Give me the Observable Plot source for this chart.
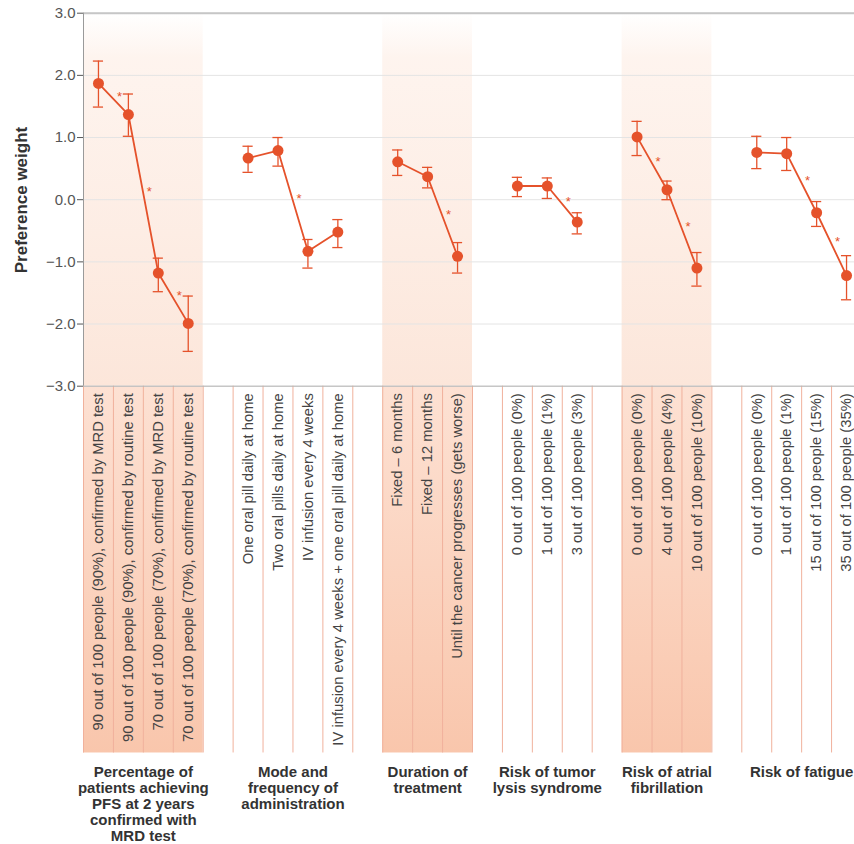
<!DOCTYPE html>
<html>
<head>
<meta charset="utf-8">
<script src="https://cdn.jsdelivr.net/npm/d3@7"></script>
<script src="https://cdn.jsdelivr.net/npm/@observablehq/plot@0.6"></script>
<style>
  html, body { margin: 0; padding: 0; background: #fff; overflow: hidden; }
  #chart svg { display: block; }
</style>
</head>
<body>
<div id="chart"></div>
<script>
// ---- Data ----
const groupNames = [
  "Percentage of\npatients achieving\nPFS at 2 years\nconfirmed with\nMRD test",
  "Mode and\nfrequency of\nadministration",
  "Duration of\ntreatment",
  "Risk of tumor\nlysis syndrome",
  "Risk of atrial\nfibrillation",
  "Risk of fatigue"
];
const groupShaded = [true, false, true, false, true, false];

const levelLabels = [
  "90 out of 100 people (90%), confirmed by MRD test",
  "90 out of 100 people (90%), confirmed by routine test",
  "70 out of 100 people (70%), confirmed by MRD test",
  "70 out of 100 people (70%), confirmed by routine test",
  "One oral pill daily at home",
  "Two oral pills daily at home",
  "IV infusion every 4 weeks",
  "IV infusion every 4 weeks + one oral pill daily at home",
  "Fixed – 6 months",
  "Fixed – 12 months",
  "Until the cancer progresses (gets worse)",
  "0 out of 100 people (0%)",
  "1 out of 100 people (1%)",
  "3 out of 100 people (3%)",
  "0 out of 100 people (0%)",
  "4 out of 100 people (4%)",
  "10 out of 100 people (10%)",
  "0 out of 100 people (0%)",
  "1 out of 100 people (1%)",
  "15 out of 100 people (15%)",
  "35 out of 100 people (35%)"
];
const levelGroup = [0,0,0,0, 1,1,1,1, 2,2,2, 3,3,3, 4,4,4, 5,5,5,5];
const weight = [1.87, 1.37, -1.18, -1.99,  0.67, 0.79, -0.83, -0.52,  0.61, 0.37, -0.91,  0.22, 0.22, -0.36,  1.01, 0.16, -1.10,  0.76, 0.74, -0.21, -1.22];
const ciLow  = [1.49, 1.02, -1.48, -2.44,  0.44, 0.54, -1.10, -0.77,  0.39, 0.19, -1.18,  0.05, 0.02, -0.55,  0.71, 0.00, -1.39,  0.50, 0.47, -0.43, -1.61];
const ciHigh = [2.23, 1.70, -0.94, -1.55,  0.86, 1.00, -0.64, -0.32,  0.80, 0.52, -0.69,  0.36, 0.35, -0.21,  1.26, 0.30, -0.85,  1.02, 1.00, -0.03, -0.90];
// significant difference between a level and the next level of the same attribute
const sigWithNext = [1,1,1,0, 0,1,0,0, 0,1,0, 0,1,0, 1,1,0, 0,1,1,0];
const yTicks = [-3, -2, -1, 0, 1, 2, 3];
const labelAreaBottom = -8.9;

// ---- Derived tables ----
const levels = levelLabels.map((label, i) => ({
  label, group: levelGroup[i], slot: i + levelGroup[i],
  w: weight[i], lo: ciLow[i], hi: ciHigh[i]
}));
const groups = groupNames.map((name, g) => {
  const slots = levels.filter(d => d.group === g).map(d => d.slot);
  return {name, g, start: d3.min(slots), end: d3.max(slots), shaded: groupShaded[g]};
});
const shaded = groups.filter(d => d.shaded);
const boundaries = Array.from(new Set(levels.flatMap(d => [d.slot - 0.5, d.slot + 0.5])));
const stars = levels
  .map((d, i) => ({d, i}))
  .filter(({i}) => sigWithNext[i])
  .map(({d, i}) => ({x: d.slot + 0.5, y: (d.w + levels[i + 1].w) / 2}));

const C = "#e5522b";

const defs = () => {
  const s = d3.create("svg:defs");
  const g1 = s.append("linearGradient").attr("id", "plotShade").attr("x1", 0).attr("y1", 0).attr("x2", 0).attr("y2", 1);
  g1.append("stop").attr("offset", 0).attr("stop-color", "#fde9de").attr("stop-opacity", 0);
  g1.append("stop").attr("offset", 0.12).attr("stop-color", "#fde9de").attr("stop-opacity", 0.5);
  g1.append("stop").attr("offset", 1).attr("stop-color", "#fce6da").attr("stop-opacity", 1);
  const g2 = s.append("linearGradient").attr("id", "labelShade").attr("x1", 0).attr("y1", 0).attr("x2", 0).attr("y2", 1);
  g2.append("stop").attr("offset", 0).attr("stop-color", "#fde1d3");
  g2.append("stop").attr("offset", 1).attr("stop-color", "#f9c6ac");
  return s.node();
};

const chart = Plot.plot({
  width: 854,
  height: 844,
  marginLeft: 83,
  marginRight: 0,
  marginTop: 13,
  marginBottom: 458,
  x: {type: "linear", domain: [-0.5, 25.5], range: [83, 861], axis: null},
  y: {domain: [-3, 3], range: [385.7, 12.7], axis: null},
  style: {fontFamily: "'Liberation Sans', Arial, sans-serif", fontSize: "15px", background: "#fff", color: "#333"},
  marks: [
    defs,
    Plot.rect(shaded, {x1: d => d.start - 0.5, x2: d => d.end + 0.5, y1: () => 3, y2: () => -3, fill: "url(#plotShade)"}),
    Plot.rect(shaded, {x1: d => d.start - 0.5, x2: d => d.end + 0.5, y1: () => -3, y2: () => labelAreaBottom, fill: "url(#labelShade)"}),
    Plot.gridY(yTicks, {stroke: "#e4e4e4", strokeOpacity: 1}),
    Plot.ruleX(boundaries, {x: d => d, y1: () => -3, y2: () => labelAreaBottom, stroke: "#f0b19c", strokeWidth: 1}),
    Plot.ruleY([3], {stroke: "#c6c6c6", strokeWidth: 2}),
    Plot.ruleY([-3], {stroke: "#b5b5b5", strokeWidth: 1}),
    Plot.ruleX([-0.5], {y1: () => -3, y2: () => 3, stroke: "#9a9a9a", strokeWidth: 1}),
    Plot.axisY(yTicks, {tickFormat: d3.format(".1f"), tickSize: 6, tickPadding: 2, fontSize: 15, color: "#555", label: null}),
    Plot.ruleX(levels, {x: "slot", y1: "lo", y2: "hi", stroke: C, strokeWidth: 1.3}),
    Plot.ruleY(levels, {y: "hi", x1: d => d.slot - 0.17, x2: d => d.slot + 0.17, stroke: C, strokeWidth: 1.3}),
    Plot.ruleY(levels, {y: "lo", x1: d => d.slot - 0.17, x2: d => d.slot + 0.17, stroke: C, strokeWidth: 1.3}),
    Plot.line(levels, {x: "slot", y: "w", z: "group", stroke: C, strokeWidth: 1.8}),
    Plot.dot(levels, {x: "slot", y: "w", r: 5.5, fill: C, stroke: null}),
    Plot.text(stars, {x: "x", y: "y", text: () => "*", dx: 6, dy: -2, fontSize: 13, fill: C}),
    Plot.text(levels, {x: "slot", y: () => -3, text: "label", rotate: -90, textAnchor: "end", lineAnchor: "middle", dy: 7, fontSize: 14.8, fill: "#444"}),
    Plot.text(groups, {x: d => (d.start + d.end) / 2, y: () => -3, text: "name", dy: 380, lineAnchor: "top", lineHeight: 1.06, fontSize: 15, fontWeight: "bold", fill: "#333"}),
    Plot.text(["Preference weight"], {frameAnchor: "left", text: d => d, rotate: -90, textAnchor: "middle", dx: -62, fontSize: 17, fontWeight: "bold", fill: "#333"})
  ]
});
document.getElementById("chart").append(chart);
</script>
</body>
</html>
